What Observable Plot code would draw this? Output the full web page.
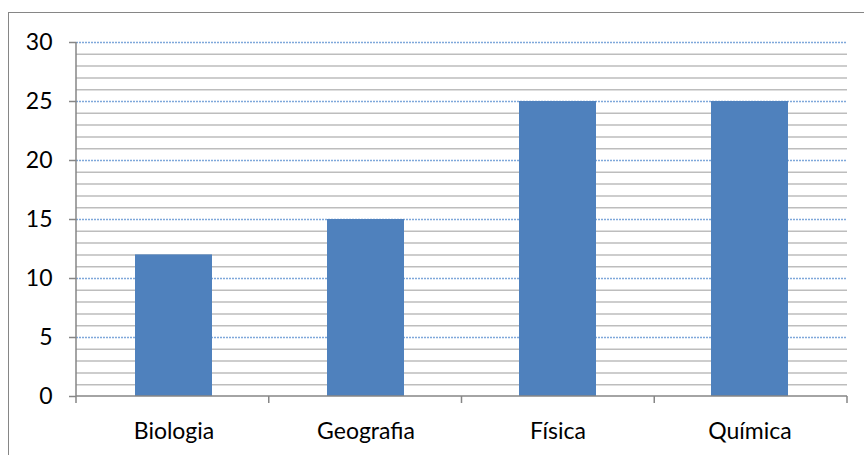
<!DOCTYPE html>
<html><head><meta charset="utf-8">
<script src="https://cdn.jsdelivr.net/npm/d3@7"></script>
<script src="https://cdn.jsdelivr.net/npm/@observablehq/plot@0.6"></script>
<style>
body{margin:0;background:#fff;}
#wrap{position:relative;width:864px;height:455px;overflow:hidden;}
#border{position:absolute;left:8px;top:12px;width:880px;height:480px;border:1.5px solid #868686;box-sizing:border-box;pointer-events:none;}
#wrap svg{position:absolute;left:0;top:0;}
</style></head><body><div id="wrap"><div id="border"></div></div>
<script>
const categories = ["Biologia", "Geografia", "Física", "Química"];
const values = [12, 15, 25, 25];
const majorTicks = [0, 5, 10, 15, 20, 25, 30];
const minorTicks = [1,2,3,4,6,7,8,9,11,12,13,14,16,17,18,19,21,22,23,24,26,27,28,29];

const data = categories.map((c, i) => ({category: c, value: values[i]}));

function axisDecor(index, scales, vals, dims) {
  const ns = "http://www.w3.org/2000/svg";
  const g = document.createElementNS(ns, "g");
  const left = dims.marginLeft, right = dims.width - dims.marginRight;
  const y0 = scales.y(0), yTop = scales.y(30);
  const line = (x1, y1, x2, y2) => {
    const l = document.createElementNS(ns, "line");
    l.setAttribute("x1", x1); l.setAttribute("y1", y1);
    l.setAttribute("x2", x2); l.setAttribute("y2", y2);
    l.setAttribute("stroke", "#868686"); l.setAttribute("stroke-width", 1.5);
    g.appendChild(l);
  };
  line(left, y0, right, y0);
  line(left, yTop, left, y0);
  const n = categories.length;
  for (let i = 0; i <= n; i++) {
    const x = left + (right - left) * i / n;
    line(x, y0, x, y0 + 7);
  }
  return g;
}

const chart = Plot.plot({
  width: 864,
  height: 455,
  marginLeft: 76,
  marginRight: 17,
  marginTop: 42,
  marginBottom: 59,
  style: {fontFamily: "Lato", fontSize: "23px", color: "#000", background: "transparent"},
  x: {domain: categories, paddingInner: 0.6, paddingOuter: 0.3, label: null},
  y: {domain: [0, 30], label: null},
  marks: [
    Plot.ruleY(minorTicks, {stroke: "#BDBDBD", strokeWidth: 1.5}),
    Plot.ruleY(majorTicks.filter(v => v > 0), {stroke: "#7FA8DA", strokeWidth: 1.3, strokeDasharray: "2,1"}),
    Plot.barY(data, {x: "category", y: "value", fill: "#4F81BD"}),
    axisDecor,
    Plot.axisY({ticks: majorTicks, tickSize: 7, tickPadding: 17, stroke: "#868686", strokeWidth: 1.5, label: null, tickFormat: d => String(d)}),
    Plot.axisX({tickSize: 0, tickPadding: 26, label: null})
  ]
});
document.getElementById("wrap").appendChild(chart);
</script>
</body></html>
